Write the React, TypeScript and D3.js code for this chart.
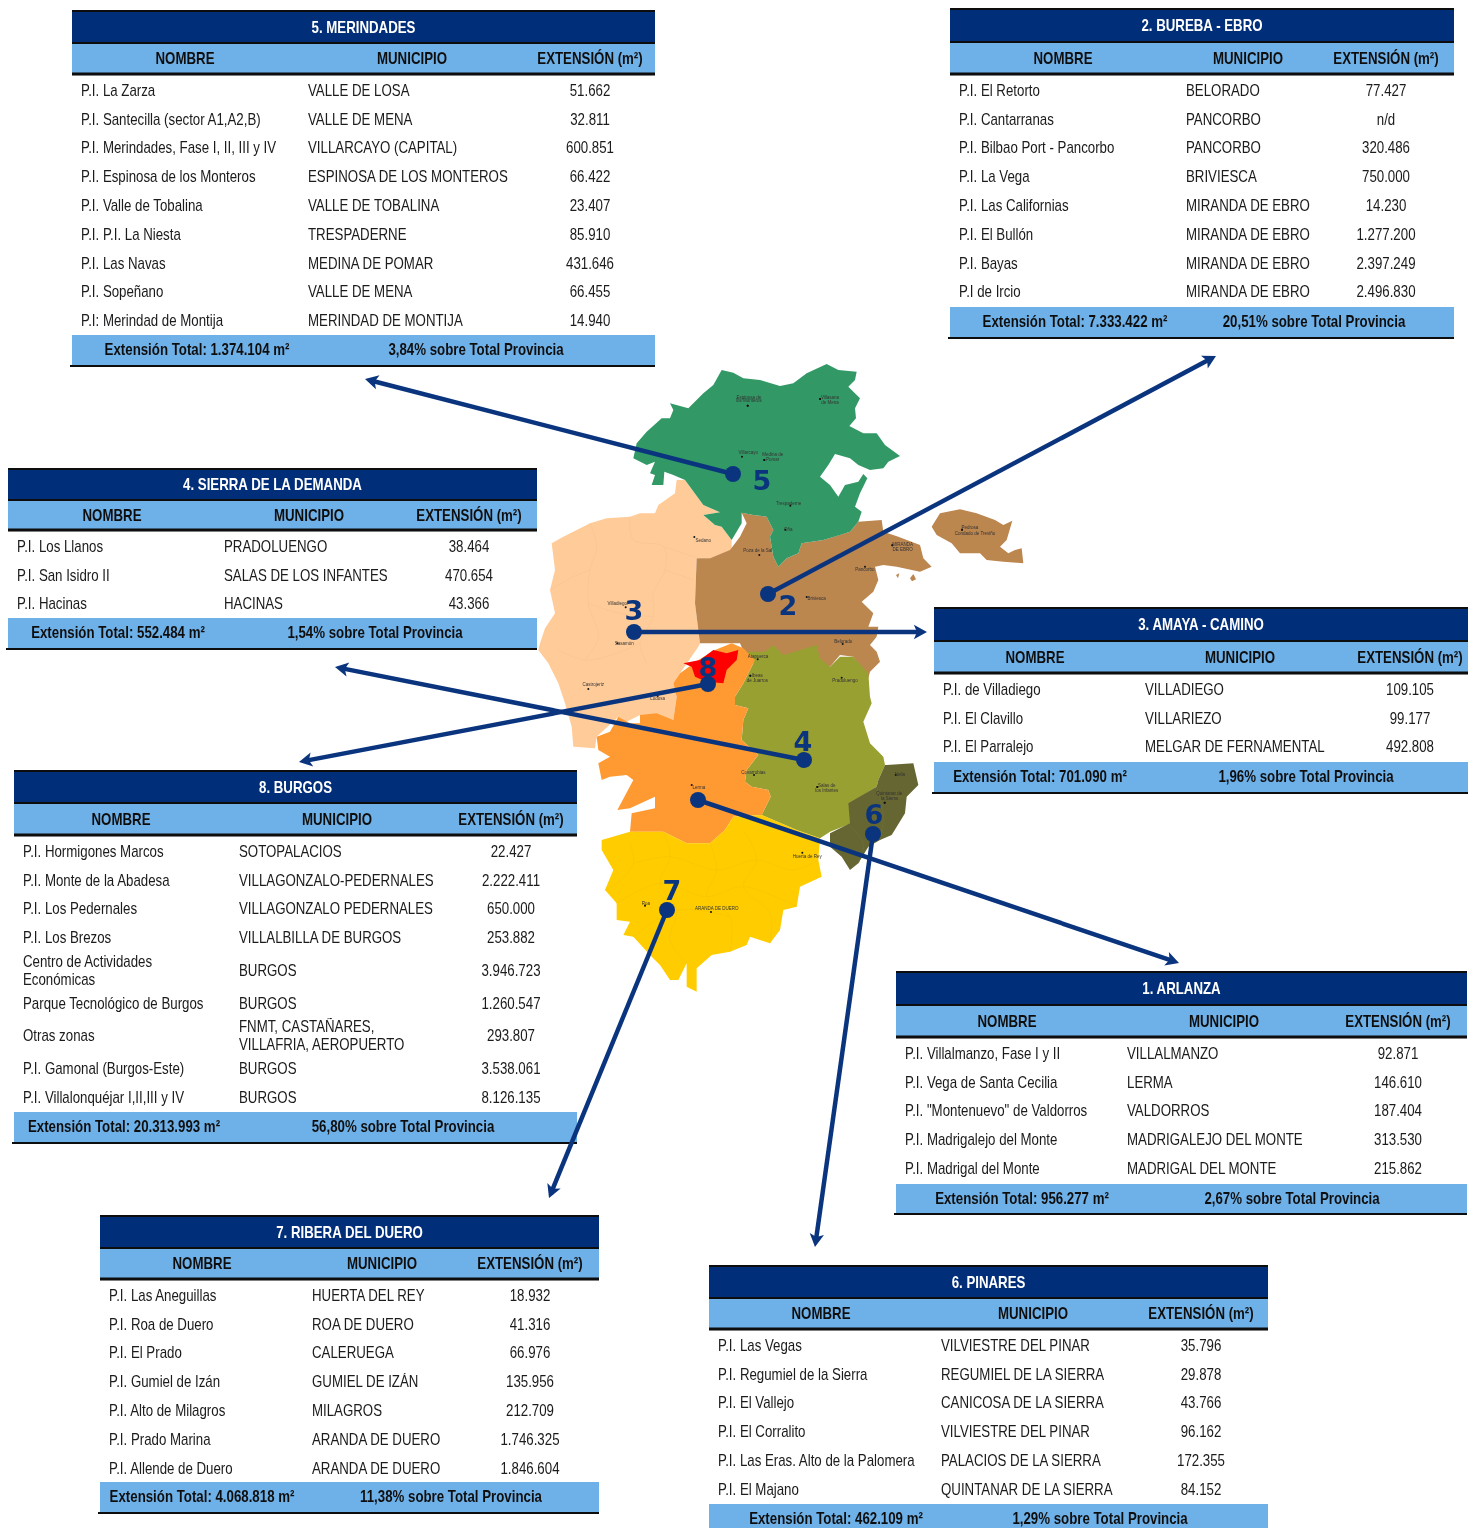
import React, { useEffect, useRef } from 'react';
import * as d3 from 'd3';

const HEADERS = ['NOMBRE', 'MUNICIPIO', 'EXTENSIÓN (m²)'];

// table contents
const merindadesNames = ['P.I. La Zarza', 'P.I. Santecilla (sector A1,A2,B)', 'P.I. Merindades, Fase I, II, III y IV', 'P.I. Espinosa de los Monteros', 'P.I. Valle de Tobalina', 'P.I. P.I. La Niesta', 'P.I. Las Navas', 'P.I. Sopeñano', 'P.I: Merindad de Montija'];
const merindadesTowns = ['VALLE DE LOSA', 'VALLE DE MENA', 'VILLARCAYO (CAPITAL)', 'ESPINOSA DE LOS MONTEROS', 'VALLE DE TOBALINA', 'TRESPADERNE', 'MEDINA DE POMAR', 'VALLE DE MENA', 'MERINDAD DE MONTIJA'];
const merindadesExt = ['51.662', '32.811', '600.851', '66.422', '23.407', '85.910', '431.646', '66.455', '14.940'];

const burebaNames = ['P.I. El Retorto', 'P.I. Cantarranas', 'P.I. Bilbao Port - Pancorbo', 'P.I. La Vega', 'P.I. Las Californias', 'P.I. El Bullón', 'P.I. Bayas', 'P.I de Ircio'];
const burebaTowns = ['BELORADO', 'PANCORBO', 'PANCORBO', 'BRIVIESCA', 'MIRANDA DE EBRO', 'MIRANDA DE EBRO', 'MIRANDA DE EBRO', 'MIRANDA DE EBRO'];
const burebaExt = ['77.427', 'n/d', '320.486', '750.000', '14.230', '1.277.200', '2.397.249', '2.496.830'];

const demandaNames = ['P.I. Los Llanos', 'P.I. San Isidro II', 'P.I. Hacinas'];
const demandaTowns = ['PRADOLUENGO', 'SALAS DE LOS INFANTES', 'HACINAS'];
const demandaExt = ['38.464', '470.654', '43.366'];

const amayaNames = ['P.I. de Villadiego', 'P.I. El Clavillo', 'P.I. El Parralejo'];
const amayaTowns = ['VILLADIEGO', 'VILLARIEZO', 'MELGAR DE FERNAMENTAL'];
const amayaExt = ['109.105', '99.177', '492.808'];

const burgosNames = ['P.I. Hormigones Marcos', 'P.I. Monte de la Abadesa', 'P.I. Los Pedernales', 'P.I. Los Brezos', 'Centro de Actividades\nEconómicas', 'Parque Tecnológico de Burgos', 'Otras zonas', 'P.I. Gamonal (Burgos-Este)', 'P.I. Villalonquéjar I,II,III y IV'];
const burgosTowns = ['SOTOPALACIOS', 'VILLAGONZALO-PEDERNALES', 'VILLAGONZALO PEDERNALES', 'VILLALBILLA DE BURGOS', 'BURGOS', 'BURGOS', 'FNMT, CASTAÑARES,\nVILLAFRIA, AEROPUERTO', 'BURGOS', 'BURGOS'];
const burgosExt = ['22.427', '2.222.411', '650.000', '253.882', '3.946.723', '1.260.547', '293.807', '3.538.061', '8.126.135'];

const arlanzaNames = ['P.I. Villalmanzo, Fase I y  II', 'P.I. Vega de Santa Cecilia', 'P.I. "Montenuevo" de Valdorros', 'P.I. Madrigalejo del Monte', 'P.I. Madrigal del Monte'];
const arlanzaTowns = ['VILLALMANZO', 'LERMA', 'VALDORROS', 'MADRIGALEJO DEL MONTE', 'MADRIGAL DEL MONTE'];
const arlanzaExt = ['92.871', '146.610', '187.404', '313.530', '215.862'];

const riberaNames = ['P.I. Las Aneguillas', 'P.I. Roa de Duero', 'P.I. El Prado', 'P.I. Gumiel de Izán', 'P.I. Alto de Milagros', 'P.I. Prado Marina', 'P.I. Allende de Duero'];
const riberaTowns = ['HUERTA DEL REY', 'ROA DE DUERO', 'CALERUEGA', 'GUMIEL DE IZÁN', 'MILAGROS', 'ARANDA DE DUERO', 'ARANDA DE DUERO'];
const riberaExt = ['18.932', '41.316', '66.976', '135.956', '212.709', '1.746.325', '1.846.604'];

const pinaresNames = ['P.I. Las Vegas', 'P.I. Regumiel de la Sierra', 'P.I. El Vallejo', 'P.I. El Corralito', 'P.I. Las Eras. Alto de la Palomera', 'P.I. El Majano'];
const pinaresTowns = ['VILVIESTRE DEL PINAR', 'REGUMIEL DE LA SIERRA', 'CANICOSA DE LA SIERRA', 'VILVIESTRE DEL PINAR', 'PALACIOS DE LA SIERRA', 'QUINTANAR DE LA SIERRA'];
const pinaresExt = ['35.796', '29.878', '43.766', '96.162', '172.355', '84.152'];

// x0,x1 band; ys = title top, header top, header bottom; cols = name x, town x, ext centre; heads = header centres
const tables = [
  { title: '5. MERINDADES', names: merindadesNames, towns: merindadesTowns, ext: merindadesExt, total: 'Extensión Total: 1.374.104 m²', share: '3,84% sobre Total Provincia', x0: 72, x1: 655, ys: [11, 43, 74], footer: 335, foot2: 366, cols: [81, 308, 590], heads: [185, 412, 590], feet: [197, 476] },
  { title: '2. BUREBA - EBRO', names: burebaNames, towns: burebaTowns, ext: burebaExt, total: 'Extensión Total: 7.333.422 m²', share: '20,51% sobre Total Provincia', x0: 950, x1: 1454, ys: [9, 42, 74], footer: 307, foot2: 338, cols: [959, 1186, 1386], heads: [1063, 1248, 1386], feet: [1075, 1314] },
  { title: '4. SIERRA DE LA DEMANDA', names: demandaNames, towns: demandaTowns, ext: demandaExt, total: 'Extensión Total: 552.484 m²', share: '1,54% sobre Total Provincia', x0: 8, x1: 537, ys: [469, 500, 530], footer: 618, foot2: 649, cols: [17, 224, 469], heads: [112, 309, 469], feet: [118, 375] },
  { title: '3. AMAYA - CAMINO', names: amayaNames, towns: amayaTowns, ext: amayaExt, total: 'Extensión Total: 701.090 m²', share: '1,96% sobre Total Provincia', x0: 934, x1: 1468, ys: [608, 641, 673], footer: 762, foot2: 793, cols: [943, 1145, 1410], heads: [1035, 1240, 1410], feet: [1040, 1306] },
  { title: '8. BURGOS', names: burgosNames, towns: burgosTowns, ext: burgosExt, total: 'Extensión Total: 20.313.993 m²', share: '56,80% sobre Total Provincia', x0: 14, x1: 577, ys: [771, 803, 835], footer: 1112, foot2: 1143, cols: [23, 239, 511], heads: [121, 337, 511], feet: [124, 403] },
  { title: '1. ARLANZA', names: arlanzaNames, towns: arlanzaTowns, ext: arlanzaExt, total: 'Extensión Total: 956.277 m²', share: '2,67% sobre Total Provincia', x0: 896, x1: 1467, ys: [972, 1005, 1037], footer: 1184, foot2: 1214, cols: [905, 1127, 1398], heads: [1007, 1224, 1398], feet: [1022, 1292] },
  { title: '7. RIBERA DEL DUERO', names: riberaNames, towns: riberaTowns, ext: riberaExt, total: 'Extensión Total: 4.068.818 m²', share: '11,38% sobre Total Provincia', x0: 100, x1: 599, ys: [1216, 1248, 1279], footer: 1482, foot2: 1513, cols: [109, 312, 530], heads: [202, 382, 530], feet: [202, 451] },
  { title: '6. PINARES', names: pinaresNames, towns: pinaresTowns, ext: pinaresExt, total: 'Extensión Total: 462.109 m²', share: '1,29% sobre Total Provincia', x0: 709, x1: 1268, ys: [1266, 1298, 1329], footer: 1504, foot2: 1530, cols: [718, 941, 1201], heads: [821, 1033, 1201], feet: [836, 1100] },
];

// map outlines, traced in tracing units (3 per page pixel, origin at 530,350)
const peachArea = [[440,390],[465,390],[520,465],[570,487],[520,495],[555,525],[575,530],[605,570],[605,600],[540,625],[500,625],[495,760],[505,840],[510,880],[505,890],[450,970],[430,1000],[440,1040],[430,1110],[380,1095],[330,1095],[290,1115],[265,1100],[200,1160],[195,1195],[130,1190],[125,1130],[105,1060],[85,1000],[55,940],[25,900],[30,880],[45,835],[75,790],[60,720],[75,660],[65,580],[100,560],[180,520],[230,505],[300,500],[330,490],[375,490],[385,465],[435,430]];
const brownArea = [[635,488],[670,495],[710,500],[730,540],[720,560],[730,620],[745,650],[770,625],[805,610],[815,580],[880,570],[960,545],[985,515],[1055,510],[1060,545],[1105,560],[1170,585],[1180,625],[1205,650],[1170,665],[1100,650],[1060,645],[1035,650],[1045,690],[1030,725],[995,755],[1030,790],[1015,830],[1045,830],[1040,860],[1020,885],[1040,905],[1050,935],[1020,965],[1015,985],[970,920],[930,915],[900,950],[860,950],[650,925],[630,880],[585,880],[510,880],[505,840],[495,760],[500,625],[540,625],[600,600],[630,560],[650,520]];
const brownEnclave = [[1205,530],[1230,490],[1290,478],[1340,490],[1395,510],[1420,525],[1447,512],[1430,570],[1410,590],[1435,610],[1455,600],[1475,595],[1480,640],[1420,635],[1370,630],[1350,610],[1290,610],[1265,580],[1220,555]];
const brownIsletA = [[1098,675],[1108,670],[1104,685]];
const brownIsletB = [[1140,685],[1150,672],[1158,688],[1146,694]];
const oliveArea = [[650,905],[705,905],[730,885],[760,915],[810,900],[860,885],[870,925],[900,950],[930,920],[970,920],[1015,970],[1020,1040],[1025,1060],[1000,1115],[1020,1180],[1060,1220],[1065,1245],[1045,1290],[1040,1310],[960,1360],[965,1420],[900,1445],[870,1465],[800,1440],[695,1395],[722,1340],[715,1320],[665,1310],[645,1295],[650,1260],[685,1215],[635,1170],[640,1110],[655,1075],[615,1065],[615,1040],[640,1000],[670,940]];
const orangeArea = [[605,880],[640,895],[675,930],[640,1000],[615,1040],[615,1065],[655,1075],[640,1110],[635,1170],[685,1215],[650,1260],[645,1295],[665,1310],[715,1320],[722,1340],[695,1395],[610,1400],[585,1440],[540,1480],[470,1480],[400,1445],[300,1445],[305,1390],[375,1375],[375,1340],[300,1375],[262,1380],[310,1290],[290,1275],[240,1280],[215,1290],[205,1240],[240,1220],[205,1200],[200,1160],[240,1145],[265,1100],[300,1120],[330,1120],[330,1095],[380,1090],[430,1110],[440,1040],[430,1000],[450,970],[505,930],[555,900]];
const redArea = [[460,940],[510,930],[550,900],[590,910],[625,900],[620,930],[590,960],[580,1000],[530,995],[495,980],[485,950]];
const yellowArea = [[215,1470],[300,1445],[400,1445],[470,1480],[540,1480],[585,1440],[610,1400],[695,1395],[800,1440],[870,1465],[865,1530],[875,1580],[810,1610],[800,1670],[760,1680],[750,1740],[720,1780],[660,1760],[650,1785],[600,1805],[545,1815],[500,1855],[500,1925],[470,1910],[470,1840],[445,1890],[420,1890],[390,1845],[365,1820],[310,1760],[280,1755],[300,1715],[260,1710],[260,1660],[225,1620],[250,1560],[215,1500]];
const pinaresArea = [[1070,1245],[1150,1240],[1165,1305],[1130,1340],[1125,1390],[1085,1455],[1050,1470],[1015,1490],[985,1540],[960,1560],[935,1520],[900,1490],[900,1450],[960,1420],[955,1360],[1040,1310],[1045,1290],[1065,1245]];
const greenArea = [[575,60],[610,68],[640,85],[690,90],[750,108],[790,100],[830,70],[890,42],[925,60],[980,65],[975,90],[955,110],[990,145],[975,175],[978,205],[958,228],[1000,250],[1040,250],[1065,285],[1110,318],[1075,335],[1060,355],[1020,360],[985,345],[960,325],[915,312],[895,345],[870,380],[900,405],[925,440],[945,405],[985,395],[1000,372],[1012,385],[990,430],[975,470],[995,485],[985,515],[960,545],[930,555],[880,570],[815,580],[805,610],[770,625],[745,650],[730,620],[720,560],[730,540],[710,500],[670,495],[635,488],[635,520],[605,570],[575,530],[555,525],[520,495],[570,487],[520,465],[465,390],[430,375],[403,365],[400,405],[365,405],[375,375],[360,370],[375,335],[350,345],[310,325],[320,280],[350,245],[395,205],[420,205],[430,180],[420,160],[475,175],[520,130],[550,105]];

const areas = [
  { outline: peachArea, fill: '#ffcc99' },
  { outline: brownArea, fill: '#bc8650' },
  { outline: brownEnclave, fill: '#bc8650' },
  { outline: brownIsletA, fill: '#bc8650' },
  { outline: brownIsletB, fill: '#bc8650' },
  { outline: oliveArea, fill: '#99a032' },
  { outline: orangeArea, fill: '#ff9933' },
  { outline: yellowArea, fill: '#ffcc00' },
  { outline: redArea, fill: '#ff0000' },
  { outline: pinaresArea, fill: '#666633' },
  { outline: greenArea, fill: '#339966' },
];

// municipal borders, faint
const peachBorders = [[[180,520],[200,590],[180,660],[175,760],[205,860],[165,930]],[[300,500],[310,570],[400,590],[405,660],[370,730],[370,800],[330,880],[350,940]],[[60,720],[130,680],[180,660]],[[175,760],[270,790],[370,800]],[[405,660],[490,690]],[[400,590],[505,625]],[[85,900],[165,930],[260,910],[330,880]]];
const yellowBorders = [[[300,1480],[310,1540],[260,1600],[225,1620]],[[400,1445],[420,1520],[390,1600],[440,1680],[420,1770],[470,1840]],[[540,1480],[560,1560],[530,1640],[600,1700],[600,1805]],[[640,1440],[680,1530],[640,1610],[720,1690],[720,1780]],[[310,1540],[420,1520],[560,1560],[680,1530],[790,1560],[865,1530]],[[260,1660],[390,1600],[530,1640],[640,1610],[800,1670]],[[310,1760],[440,1680],[600,1700]]];
const pinaresBorders = [[[1070,1340],[1130,1340]],[[1040,1310],[1060,1400],[1050,1470]],[[960,1430],[1000,1480],[985,1540]]];

// towns on the map: label, label x, label y, dot x, dot y (tracing units)
const mapTowns: [string, number, number, number, number][] = [
  ['Villasana', 900, 144, 870, 147], ['de Mena', 900, 158, 870, 147], ['Espinosa de', 657, 143, 653, 167], ['los Monteros', 657, 151, 653, 167],
  ['Villarcayo', 655, 307, 636, 320], ['Medina de', 728, 314, 703, 330], ['Pomar', 728, 328, 703, 330], ['Trespaderne', 776, 460, 781, 467],
  ['Oña', 775, 538, 766, 539], ['Poza de la Sal', 683, 603, 688, 615], ['MIRANDA', 1118, 584, 1087, 586], ['DE EBRO', 1118, 598, 1087, 586],
  ['Pancorbo', 1005, 658, 1005, 650], ['Briviesca', 860, 745, 830, 741], ['Belorado', 940, 876, 938, 882], ['Sedano', 520, 571, 493, 561],
  ['Villadiego', 262, 762, 287, 772], ['Sasamón', 283, 880, 262, 880], ['Pedrosa', 1320, 532, 1296, 539], ['Condado de Treviño', 1335, 550, 1296, 539],
  ['Ibeas', 682, 978, 661, 977], ['de Juarros', 682, 992, 661, 977], ['Atapuerca', 684, 920, 683, 928], ['Pradoluengo', 945, 992, 935, 983],
  ['Castrojeriz', 190, 1003, 175, 1017], ['Lerma', 507, 1312, 485, 1305], ['Covarrubias', 670, 1267, 672, 1275], ['Salas de', 890, 1308, 862, 1311],
  ['los Infantes', 890, 1322, 862, 1311], ['Huerta de Rey', 832, 1520, 817, 1508], ['Roa', 348, 1660, 345, 1667], ['ARANDA DE DUERO', 560, 1676, 543, 1686],
  ['Quintanar de', 1078, 1332, 1064, 1358], ['la Sierra', 1078, 1346, 1064, 1358], ['Neila', 1110, 1273, 1097, 1275], ['Lodosa', 383, 1046, 383, 1038],
];

// zone markers: number, label pos, dot pos and arrow tip in page pixels
const zoneNumbers = ['5', '2', '3', '4', '8', '6', '7'];
const labelX = [762, 788, 634, 803, 708, 874, 672];
const labelY = [482, 607, 612, 743, 669, 816, 892];
const arrowIds = ['5', '2', '3', '4', '8', '1', '6', '7'];
const arrowFromX = [733, 768, 634, 804, 708, 698, 873, 667];
const arrowFromY = [474, 594, 632, 760, 684, 800, 834, 910];
const arrowToX = [365, 1216, 927, 335, 299, 1179, 815, 549];
const arrowToY = [379, 356, 632, 667, 762, 963, 1247, 1198];

const NAVY = '#042f78';
const SKY = '#6eb1e9';
const ARROW = '#0a357e';
const FONT = '"Liberation Sans", Arial, sans-serif';
const NARROW_X = 0.83; // no Arial Narrow here, so squeeze the regular face

type Sel = d3.Selection<SVGGElement, unknown, null, undefined>;

function narrowText(g: Sel, x: number, y: number, s: string, anchor: string, fill: string, weight = 400) {
  g.append('text')
    .attr('transform', `translate(${x},${y}) scale(${NARROW_X},1)`)
    .attr('text-anchor', anchor)
    .attr('dominant-baseline', 'middle')
    .attr('font-size', 16)
    .attr('font-weight', weight)
    .attr('fill', fill)
    .text(s);
}

export default function App() {
  const ref = useRef<SVGSVGElement>(null);

  useEffect(() => {
    const svg = d3.select(ref.current);
    svg.selectAll('*').remove();

    const defs = svg.append('defs');
    defs.append('filter').attr('id', 'soft').append('feGaussianBlur').attr('stdDeviation', 0.5);
    defs.append('filter').attr('id', 'softer').append('feGaussianBlur').attr('stdDeviation', 0.25);

    // map
    const mx = d3.scaleLinear().domain([0, 1530]).range([530, 1040]);
    const my = d3.scaleLinear().domain([0, 990]).range([350, 680]);
    const outline = d3
      .line<number[]>()
      .x((d) => mx(d[0]))
      .y((d) => my(d[1]))
      .curve(d3.curveLinearClosed);
    const border = d3
      .line<number[]>()
      .x((d) => mx(d[0]))
      .y((d) => my(d[1]))
      .curve(d3.curveCatmullRom);

    const map = svg.append('g').attr('filter', 'url(#soft)');
    map
      .selectAll('path.area')
      .data(areas)
      .join('path')
      .attr('class', 'area')
      .attr('d', (d) => outline(d.outline))
      .attr('fill', (d) => d.fill);

    const borderSets = [
      { lines: peachBorders, stroke: '#f5c08e' },
      { lines: yellowBorders, stroke: '#f4c200' },
      { lines: pinaresBorders, stroke: '#73733f' },
    ];
    borderSets.forEach((set) => {
      map
        .append('g')
        .selectAll('path')
        .data(set.lines)
        .join('path')
        .attr('d', (d) => border(d))
        .attr('fill', 'none')
        .attr('stroke', set.stroke)
        .attr('stroke-width', 0.5);
    });

    map
      .selectAll('circle')
      .data(mapTowns)
      .join('circle')
      .attr('cx', (d) => mx(d[3]))
      .attr('cy', (d) => my(d[4]))
      .attr('r', 1)
      .attr('fill', '#111');
    map
      .selectAll('text')
      .data(mapTowns)
      .join('text')
      .attr('x', (d) => mx(d[1]))
      .attr('y', (d) => my(d[2]))
      .attr('text-anchor', 'middle')
      .attr('dominant-baseline', 'middle')
      .attr('font-family', FONT)
      .attr('font-size', 4.5)
      .attr('fill', '#333')
      .text((d) => d[0]);

    // tables
    tables.forEach((t) => {
      const g = svg.append('g').attr('font-family', FONT).attr('filter', 'url(#softer)') as unknown as Sel;
      const [top, mid, bot] = t.ys;
      const w = t.x1 - t.x0;
      g.append('rect').attr('x', t.x0).attr('y', top).attr('width', w).attr('height', mid - top).attr('fill', NAVY);
      g.append('rect').attr('x', t.x0).attr('y', mid).attr('width', w).attr('height', bot - mid).attr('fill', SKY);
      g.append('rect').attr('x', t.x0).attr('y', t.footer).attr('width', w).attr('height', t.foot2 - t.footer).attr('fill', SKY);

      const rules = [
        { y: top, sw: 2, x: t.x0 },
        { y: mid, sw: 2, x: t.x0 },
        { y: bot, sw: 3, x: t.x0 },
        { y: t.foot2, sw: 2, x: t.x0 - 2 },
      ];
      g.selectAll('line')
        .data(rules)
        .join('line')
        .attr('x1', (d) => d.x)
        .attr('x2', t.x1)
        .attr('y1', (d) => d.y)
        .attr('y2', (d) => d.y)
        .attr('stroke', '#0a0a0a')
        .attr('stroke-width', (d) => d.sw);

      narrowText(g, (t.x0 + t.x1) / 2, (top + mid) / 2 + 1.5, t.title, 'middle', '#fff', 700);
      HEADERS.forEach((h, i) => narrowText(g, t.heads[i], (mid + bot) / 2 + 1.5, h, 'middle', '#111', 700));

      // rows: a two-line cell makes the row taller
      let cursor = bot + 1.5;
      t.names.forEach((name, i) => {
        const town = t.towns[i];
        const h = name.includes('\n') || town.includes('\n') ? 36.6 : 28.8;
        const cy = cursor + h / 2 + 1.7;
        cursor += h;
        [name, town].forEach((cell, c) => {
          const lines = cell.split('\n');
          lines.forEach((line, k) => {
            narrowText(g, t.cols[c], cy + (k - (lines.length - 1) / 2) * 18, line, 'start', '#1a1a1a');
          });
        });
        narrowText(g, t.cols[2], cy, t.ext[i], 'middle', '#1a1a1a');
      });

      [t.total, t.share].forEach((s, i) => {
        narrowText(g, t.feet[i], t.footer + 15.5, s, 'middle', '#111', 700);
      });
    });

    // arrows
    const arrows = svg.append('g');
    arrowIds.forEach((id, i) => {
      const x1 = arrowFromX[i];
      const y1 = arrowFromY[i];
      const x2 = arrowToX[i];
      const y2 = arrowToY[i];
      const a = Math.atan2(y2 - y1, x2 - x1);
      const len = 15;
      const spread = 0.5;
      const back = 10;
      const head: [number, number][] = [
        [x2, y2],
        [x2 - len * Math.cos(a - spread), y2 - len * Math.sin(a - spread)],
        [x2 - back * Math.cos(a), y2 - back * Math.sin(a)],
        [x2 - len * Math.cos(a + spread), y2 - len * Math.sin(a + spread)],
      ];
      arrows
        .append('line')
        .attr('x1', x1)
        .attr('y1', y1)
        .attr('x2', x2 - 6 * Math.cos(a))
        .attr('y2', y2 - 6 * Math.sin(a))
        .attr('stroke', ARROW)
        .attr('stroke-width', 4.5);
      arrows.append('path').attr('d', d3.line().curve(d3.curveLinearClosed)(head)).attr('fill', ARROW);
      arrows.append('circle').attr('cx', x1).attr('cy', y1).attr('r', 8).attr('fill', ARROW).attr('data-zone', id);
    });

    svg
      .append('g')
      .selectAll('text')
      .data(zoneNumbers)
      .join('text')
      .attr('x', (_, i) => labelX[i])
      .attr('y', (_, i) => labelY[i])
      .attr('text-anchor', 'middle')
      .attr('dominant-baseline', 'middle')
      .attr('font-family', '"DejaVu Sans", sans-serif')
      .attr('font-weight', 700)
      .attr('font-size', 27)
      .attr('fill', ARROW)
      .text((d) => d);
  }, []);

  return (
    <svg
      ref={ref}
      width={1468}
      height={1528}
      viewBox="0 0 1468 1528"
      style={{ position: 'absolute', left: 0, top: 0, background: '#fff' }}
    />
  );
}
